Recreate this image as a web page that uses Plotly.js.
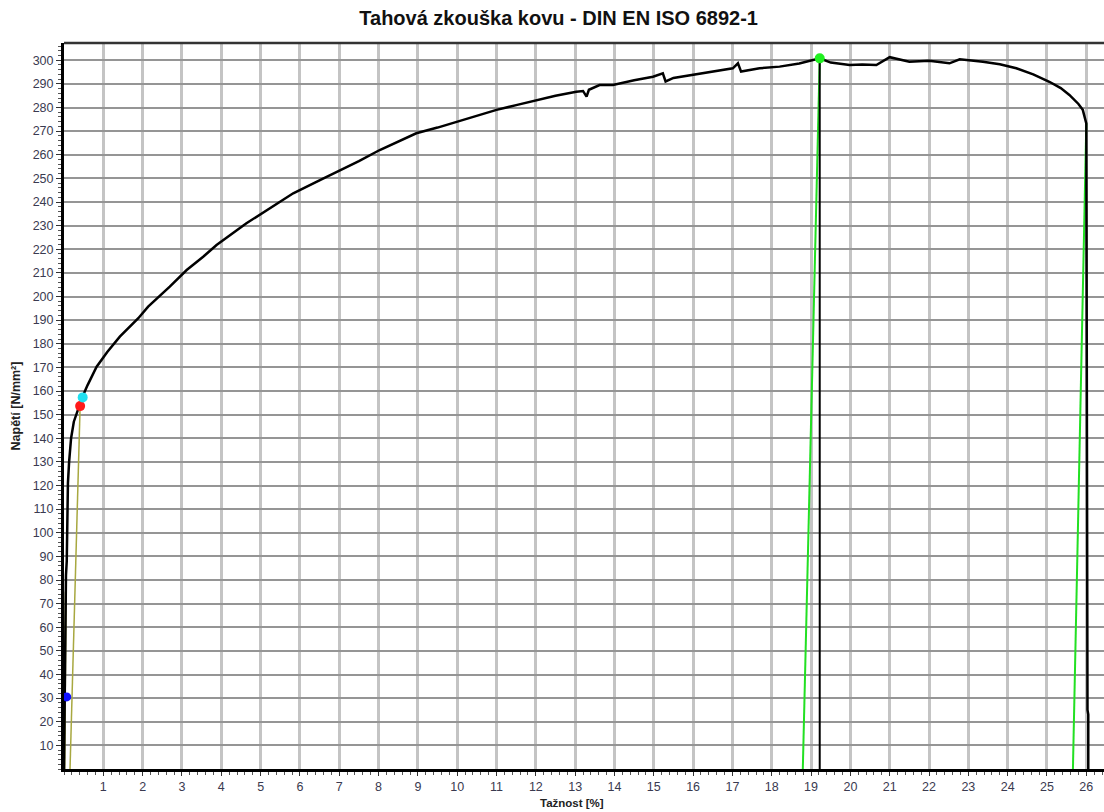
<!DOCTYPE html>
<html>
<head>
<meta charset="utf-8">
<script src="https://cdn.plot.ly/plotly-3.0.1.min.js"></script>
<style>html,body{margin:0;padding:0;background:#fff;}#chart{width:1104px;height:812px;}</style>
</head>
<body>
<div id="chart"></div>
<script>
// Stress-strain curve (Tažnost [%], Napětí [N/mm²])
const strain = [0.0,0.01,0.02,0.03,0.04,0.05,0.07,0.08,0.09,0.1,0.13,0.18,0.25,0.33,0.41,0.475,0.6,0.83,1.1,1.42,1.89,2.14,2.69,3.12,3.54,3.88,4.64,5.15,5.83,6.51,7.0,7.5,8.03,8.5,8.96,9.5,9.98,10.5,11.0,11.5,12.02,12.5,13.03,13.2,13.29,13.35,13.62,13.96,14.5,14.98,15.23,15.3,15.5,16.0,16.5,17.01,17.14,17.22,17.69,18.2,18.7,19.22,19.5,19.98,20.3,20.66,21.0,21.5,22.0,22.52,22.78,23.37,23.8,24.22,24.65,25.06,25.35,25.57,25.8,25.91,26.0,26.02,26.03,26.05,26.05];
const stress = [0,25,50,65,75,82,88,100,115,121,130,140,147,151,154.5,157.8,162.5,170.3,176.5,183,190.8,195.7,204.2,211.2,216.8,221.8,231,236.6,243.7,249.3,253.3,257.3,262,265.5,269.1,271.5,274,276.5,279,281,283.2,285,286.7,287,284.6,287.5,289.5,289.5,291.5,293,294.5,291,292.5,293.8,295.2,296.6,298.7,295.2,296.6,297.3,298.6,300.8,299,298,298.2,298,301.3,299.4,299.8,298.7,300.4,299.4,298.3,296.6,294,290.9,288.2,285.3,281.5,279,273.3,150,25,23,0];

// Vertical line at maximum force
const rmLineX = [19.22, 19.22];
const rmLineY = [0, 300.8];
// Green unloading lines
const green1X = [18.79, 19.22];
const green1Y = [0, 300.8];
const green2X = [25.66, 26.0];
const green2Y = [0, 273.3];
// Olive offset lines
const olive1X = [0.153, 0.41];
const olive1Y = [0, 153.6];
const olive2X = [0.01, 0.045];
const olive2Y = [0, 75];
// Marker points
const ptBlue = {x: [0.07], y: [30.5]};
const ptRed = {x: [0.41], y: [153.6]};
const ptCyan = {x: [0.475], y: [157.3]};
const ptGreen = {x: [19.22], y: [300.8]};

const xTicks = [1,2,3,4,5,6,7,8,9,10,11,12,13,14,15,16,17,18,19,20,21,22,23,24,25,26];
const yTicks = [10,20,30,40,50,60,70,80,90,100,110,120,130,140,150,160,170,180,190,200,210,220,230,240,250,260,270,280,290,300];

const traces = [
  {x: olive2X, y: olive2Y, mode: 'lines', line: {color: '#8a8a20', width: 2}, hoverinfo: 'skip'},
  {x: olive1X, y: olive1Y, mode: 'lines', line: {color: '#a8a840', width: 1.5}, hoverinfo: 'skip'},
  {x: green1X, y: green1Y, mode: 'lines', line: {color: '#22e022', width: 2}, hoverinfo: 'skip'},
  {x: green2X, y: green2Y, mode: 'lines', line: {color: '#22e022', width: 2}, hoverinfo: 'skip'},
  {x: rmLineX, y: rmLineY, mode: 'lines', line: {color: '#000000', width: 2}, hoverinfo: 'skip'},
  {x: strain, y: stress, mode: 'lines', line: {color: '#000000', width: 2.5}},
  {x: ptBlue.x, y: ptBlue.y, mode: 'markers', marker: {color: '#1010ff', size: 9}},
  {x: ptRed.x, y: ptRed.y, mode: 'markers', marker: {color: '#ff1a1a', size: 10}},
  {x: ptCyan.x, y: ptCyan.y, mode: 'markers', marker: {color: '#20e0f0', size: 10}},
  {x: ptGreen.x, y: ptGreen.y, mode: 'markers', marker: {color: '#20f020', size: 10}}
];

const tickFont = {family: 'Liberation Sans, Arial, sans-serif', size: 12.5, color: '#3a3a50'};

const layout = {
  width: 1104, height: 812,
  paper_bgcolor: '#ffffff', plot_bgcolor: '#ffffff',
  showlegend: false,
  margin: {l: 64, r: 0, t: 43, b: 43, pad: 0},
  title: {text: '<b>Tahová zkouška kovu - DIN EN ISO 6892-1</b>', x: 0.506, xanchor: 'center', y: 0.978, yanchor: 'middle',
          font: {family: 'Liberation Sans, Arial, sans-serif', size: 20, color: '#111111'}},
  xaxis: {
    range: [0, 26.45], tickmode: 'array', tickvals: xTicks, ticktext: xTicks.map(String),
    showgrid: true, gridcolor: '#c4c4c4', gridwidth: 3, zeroline: false,
    showline: true, linecolor: '#000000', linewidth: 3,
    ticks: 'outside', ticklen: 4, tickcolor: '#333333', tickwidth: 1,
    minor: {dtick: 0.2, ticks: 'outside', ticklen: 3, tickcolor: '#555555', tickwidth: 1, showgrid: false},
    tickfont: tickFont,
    fixedrange: true
  },
  yaxis: {
    range: [0, 307.3], tickmode: 'array', tickvals: yTicks, ticktext: yTicks.map(String),
    showgrid: true, gridcolor: '#959595', gridwidth: 2, zeroline: false,
    showline: true, linecolor: '#000000', linewidth: 3,
    ticks: 'outside', ticklen: 5, tickcolor: '#333333', tickwidth: 1,
    minor: {dtick: 2, ticks: 'outside', ticklen: 3, tickcolor: '#555555', tickwidth: 1, showgrid: false},
    tickfont: tickFont,
    title: {text: '<b>Napětí [N/mm²]</b>', font: {family: 'Liberation Sans, Arial, sans-serif', size: 12.5, color: '#222222'}, standoff: 10},
    fixedrange: true
  },
  annotations: [
    {text: '<b>Tažnost [%]</b>', xref: 'paper', yref: 'paper', x: (572 - 64) / 1040, y: -(803 - 769) / 726,
     xanchor: 'center', yanchor: 'middle', showarrow: false,
     font: {family: 'Liberation Sans, Arial, sans-serif', size: 11.5, color: '#222222'}}
  ],
  shapes: [
    {type: 'line', xref: 'paper', yref: 'paper', x0: 0, x1: 1, y0: 1, y1: 1, line: {color: '#333333', width: 2.5}}
  ]
};

Plotly.newPlot('chart', traces, layout, {displayModeBar: false, staticPlot: true});
</script>
</body>
</html>
